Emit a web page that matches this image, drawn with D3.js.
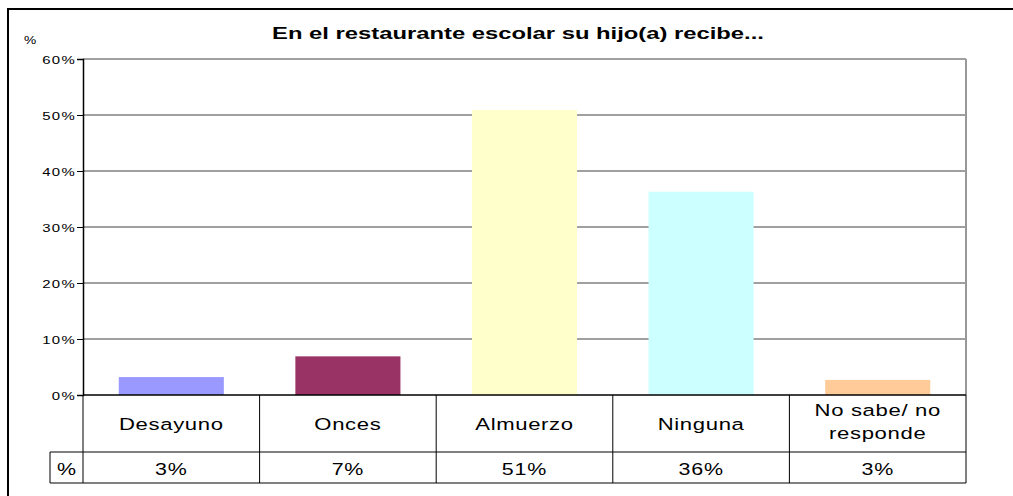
<!DOCTYPE html>
<html>
<head>
<meta charset="utf-8">
<script src="https://cdn.jsdelivr.net/npm/d3@7"></script>
<style>
  html, body { margin: 0; padding: 0; background: #fff; }
  svg { display: block; font-family: "Liberation Sans", Arial, sans-serif; }
</style>
</head>
<body>
<svg id="chart" width="1013" height="496"></svg>
<script>
// Survey answers: what the child receives at the school restaurant
const categories = ["Desayuno", "Onces", "Almuerzo", "Ninguna", "No sabe/ no responde"];
const values = [0.032, 0.069, 0.509, 0.363, 0.027];
const colors = ["#9999FF", "#993366", "#FFFFCC", "#CCFFFF", "#FFCC99"];
const yTicks = [0, 0.1, 0.2, 0.3, 0.4, 0.5, 0.6];
const title = "En el restaurante escolar su hijo(a) recibe...";
const unitLabel = "%";

const svg = d3.select("#chart");
const W = 1013, H = 496;
const plot = { left: 83, right: 966, top: 59, bottom: 395 };
const table = { headLeft: 50, rowSplit: 452, bottom: 483 };

const x = d3.scaleBand()
  .domain(categories)
  .range([plot.left, plot.right])
  .paddingInner(0.405)
  .paddingOuter(0.2025);
const col = d3.scaleBand().domain(categories).range([plot.left, plot.right]);
const y = d3.scaleLinear().domain([0, 0.6]).range([plot.bottom, plot.top]);
const pct = d3.format(".0%");

// horizontally widened text helper
function wideText(g, txt, px, py, size, sx, opts = {}) {
  const t = g.append("text")
    .attr("transform", `translate(${px},${py}) scale(${sx},1)`)
    .attr("font-size", size)
    .attr("text-anchor", opts.anchor || "middle")
    .attr("font-weight", opts.weight || "normal")
    .attr("fill", "#000")
    .text(txt);
  if (opts.spacing) t.attr("letter-spacing", opts.spacing);
  return t;
}

// outer chart frame
svg.append("rect")
  .attr("x", 8).attr("y", 9)
  .attr("width", W + 20).attr("height", H + 20)
  .attr("fill", "#fff").attr("stroke", "#000").attr("stroke-width", 2);

// title
wideText(svg, title, 518, 39, 17, 1.4, { weight: "bold" });

// unit label
wideText(svg, unitLabel, 30, 44, 11, 1.25);

// horizontal gridlines
svg.append("g")
  .selectAll("line")
  .data(yTicks.filter(d => d > 0))
  .join("line")
  .attr("x1", plot.left).attr("x2", plot.right)
  .attr("y1", d => y(d)).attr("y2", d => y(d))
  .attr("stroke", d => d === 0.6 ? "#808080" : "#404040")
  .attr("stroke-width", d => d === 0.6 ? 1.5 : 1.2);

// right edge of the plot area
svg.append("line")
  .attr("x1", plot.right).attr("x2", plot.right)
  .attr("y1", plot.top).attr("y2", plot.bottom)
  .attr("stroke", "#999").attr("stroke-width", 2);

// bars
svg.append("g")
  .selectAll("rect")
  .data(categories)
  .join("rect")
  .attr("x", d => x(d))
  .attr("width", x.bandwidth())
  .attr("y", (d, i) => y(values[i]))
  .attr("height", (d, i) => y(0) - y(values[i]))
  .attr("fill", (d, i) => colors[i]);

// y axis
const axis = d3.axisLeft(y).tickValues(yTicks).tickSize(6).tickFormat(() => "");
const axisG = svg.append("g").attr("transform", `translate(${plot.left},0)`).call(axis);
axisG.select(".domain").attr("stroke", "#000").attr("stroke-width", 1.5);
axisG.selectAll(".tick line").attr("stroke", "#000");
axisG.selectAll(".tick").each(function(d) {
  wideText(d3.select(this), pct(d), -7, 4, 11.5, 1.3, { anchor: "end", spacing: 1 });
});

// data table beneath the axis
const tg = svg.append("g");
// zero baseline / table top
tg.append("line")
  .attr("x1", plot.left).attr("x2", plot.right)
  .attr("y1", plot.bottom).attr("y2", plot.bottom)
  .attr("stroke", "#000").attr("stroke-width", 1.5);
// row separator
tg.append("line")
  .attr("x1", table.headLeft).attr("x2", plot.right)
  .attr("y1", table.rowSplit).attr("y2", table.rowSplit)
  .attr("stroke", "#808080").attr("stroke-width", 2);
// bottom
tg.append("line")
  .attr("x1", table.headLeft).attr("x2", plot.right)
  .attr("y1", table.bottom).attr("y2", table.bottom)
  .attr("stroke", "#000").attr("stroke-width", 1);
// vertical cell borders
const vxs = categories.map(c => col(c)).concat([plot.right]);
tg.selectAll("line.v")
  .data(vxs)
  .join("line")
  .attr("class", "v")
  .attr("x1", d => d).attr("x2", d => d)
  .attr("y1", plot.bottom).attr("y2", table.bottom)
  .attr("stroke", "#000").attr("stroke-width", 1);
tg.append("line")
  .attr("x1", table.headLeft).attr("x2", table.headLeft)
  .attr("y1", table.rowSplit).attr("y2", table.bottom)
  .attr("stroke", "#000").attr("stroke-width", 1);

// row header
wideText(tg, unitLabel, (table.headLeft + plot.left) / 2, 475, 16.5, 1.3);

// category names and values
categories.forEach((c, i) => {
  const cx = col(c) + col.bandwidth() / 2;
  if (c === "No sabe/ no responde") {
    wideText(tg, "No sabe/ no", cx, 416, 17, 1.3, { spacing: 0.5 });
    wideText(tg, "responde", cx, 439, 17, 1.3, { spacing: 0.5 });
  } else {
    wideText(tg, c, cx, 429.5, 17, 1.3, { spacing: 0.5 });
  }
  wideText(tg, pct(values[i]), cx, 475, 16.5, 1.3, { spacing: 0.6 });
});
</script>
</body>
</html>
